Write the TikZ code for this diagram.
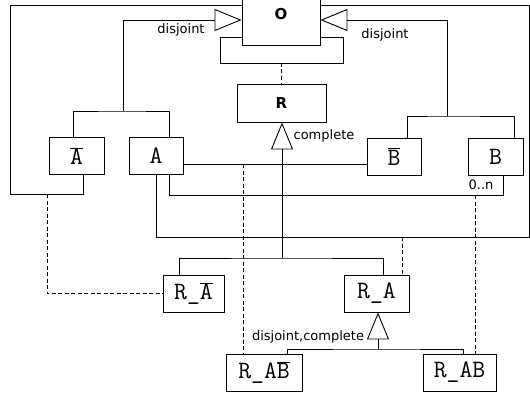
\documentclass[tikz,border=0pt]{standalone}
\usepackage{fontspec}
\setmainfont{DejaVu Sans}
\usetikzlibrary{arrows.meta,positioning}
\newcommand{\barra}[1]{$\overline{\mbox{#1}}$}

\begin{document}
\begin{tikzpicture}[x=1pt, y=-1pt, line width=0.9pt,
  classe/.style={draw, fill=white, inner sep=0pt, minimum height=37pt,
                 font=\ttfamily\fontsize{25}{29}\selectfont},
  topo/.style={draw, fill=white, inner sep=0pt,
               font=\bfseries\fontsize{15}{18}\selectfont},
  rotulo/.style={inner sep=0pt, font=\fontsize{13}{15}\selectfont},
  heranca/.style={-{Triangle[open, length=27pt, width=22pt]}},
  tracado/.style={dash pattern=on 4pt off 2.5pt}]
\useasboundingbox (0,0) rectangle (530,396);
\clip (0,0) rectangle (530,396);
% classes
\node[topo, minimum width=78pt, minimum height=62pt] (O) at (281,14) {O};
\node[topo, minimum width=89pt, minimum height=38pt] (R) at (281.5,103) {R};
\node[classe, minimum width=55pt] (Abar) at (76.5,156) {\barra{A}};
\node[classe, minimum width=54pt] (A) at (156,156) {A};
\node[classe, minimum width=54pt] (Bbar) at (394,156.5) {\barra{B}};
\node[classe, minimum width=55pt] (B) at (495.5,156.5) {B};
\node[classe, minimum width=61pt] (RAbar) at (193.5,293.5) {R\_\barra{A}};
\node[classe, minimum width=65pt] (RA) at (376.5,293.5) {R\_A};
\node[classe, minimum width=76pt] (RABbar) at (264,372.5) {R\_A\barra{B}};
\node[classe, minimum width=73pt] (RAB) at (459.5,372.5) {R\_AB};
% pontos de juncao
\coordinate (jA) at (123,111);
\coordinate (jB) at (447,116);
\coordinate (jR) at (282,258);
\coordinate (jRA) at (378,349);
\coordinate (lo) at (220,63);
\coordinate (ro) at (343,63);
\coordinate (c1) at (10,194);
\coordinate (ab) at (503,195);
\coordinate (ar) at (529,237);
% generalizacoes
\draw ([xshift=-3.5pt]Abar.north) |- (jA) -| ([xshift=13pt]A.north);
\draw[heranca] (jA) |- ([yshift=-6pt]O.west);
\draw ([xshift=13pt]Bbar.north) |- (jB) -| ([xshift=18.5pt]B.north);
\draw[heranca] (jB) |- ([yshift=-6pt]O.east);
\draw ([xshift=-14.5pt]RAbar.north) |- (jR) -| ([xshift=6.5pt]RA.north);
\draw[heranca] (jR) -- (jR |- R.south);
\draw ([xshift=23pt]RABbar.north) |- (jRA) -| ([xshift=3.5pt]RAB.north);
\draw[heranca] (jRA) -- (jRA |- RA.south);
% associacoes
\draw ([yshift=-23pt]O.west) -| (lo) -- (ro) |- ([yshift=-23pt]O.east);
\draw ([xshift=6.5pt]Abar.south) |- (c1) |- ([yshift=9pt]O.west);
\draw ([yshift=-8pt]A.east) -- ([yshift=-8pt]A.east -| Bbar.west);
\draw ([xshift=13pt]A.south) |- (ab) -- ([xshift=7.5pt]B.south);
\draw (A.south) |- (ar) |- ([yshift=9pt]O.east);
% classes de associacao
\coordinate (d1) at (47,194);
\coordinate (d2) at (243,164);
\coordinate (d3) at (402,237);
\coordinate (d4) at (475,195);
\draw[tracado] (R.north |- lo) -- (R.north);
\draw[tracado] (d1) |- (RAbar.west);
\draw[tracado] (d2) -- (d2 |- RABbar.north);
\draw[tracado] (d3) -- (d3 |- RA.north);
\draw[tracado] (d4) -- (d4 |- RAB.north);
% rotulos
\node[rotulo] (dl) at (181,30) {disjoint};
\node[rotulo] (dr) at (385,35) {disjoint};
\node[rotulo] (cp) at (324,136) {complete};
\node[rotulo] (dc) at (308,337) {disjoint,complete};
\node[rotulo] (mult) at (481,185) {0..n};
\end{tikzpicture}
\end{document}
